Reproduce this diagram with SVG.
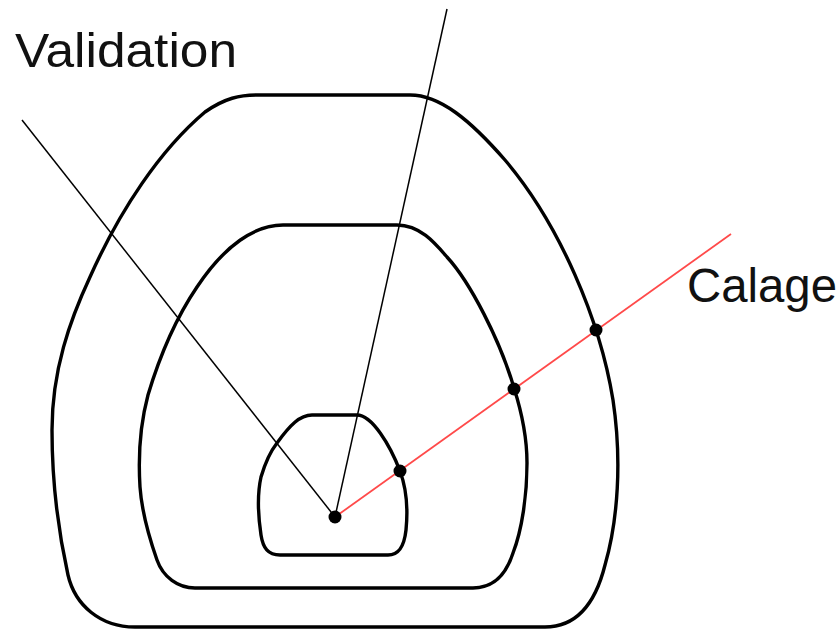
<svg xmlns="http://www.w3.org/2000/svg" width="840" height="630" viewBox="0 0 840 630">
<style>
.contour{fill:none;stroke:#000;stroke-width:3.4;stroke-linejoin:round}
.axis{fill:none;stroke:#000;stroke-width:1.5}
.calage{fill:none;stroke:#ff4a4a;stroke-width:1.8}
.dot{fill:#000}
.label{font-family:"Liberation Sans",Arial,sans-serif;font-size:48px;fill:#111}
</style>
<rect width="840" height="630" fill="#fff"/>
<g id="outer-contour">
<path class="contour" d="M257,95 L410,95 C440,95 470,120 505,160 C560,225 600,320 613,400 C622,460 618,520 605,565 C595,605 575,627 545,627 L135,627 C100,627 75,605 68,575 C58,530 52,480 52,430 C52,370 70,320 90,277 C120,210 160,150 205,112 C225,98 240,95 257,95 Z"/>
</g>
<g id="middle-contour">
<path class="contour" d="M283,225 L397,225 C420,225 435,243 447,257 C470,282 500,340 514,388 C521,410 527,435 527,463 C527,495 522,530 513,553 C505,578 490,588 473,588 L195,588 C178,588 163,577 157,560 C150,540 142,515 140,487 C138,455 140,425 148,395 C160,355 178,315 197,287 C225,245 255,225 283,225 Z"/>
</g>
<g id="inner-contour">
<path class="contour" d="M312,415 L357,415 C372,415 390,445 400,471 C407,490 408,510 406,530 C404,548 398,555 388,555 L280,555 C268,555 263,548 261,535 C258,515 257,495 261,477 C266,460 270,452 277,443 C290,425 300,415 312,415 Z"/>
</g>
<g id="connectors">
<line class="axis" x1="335" y1="517" x2="22" y2="120"/>
<line class="axis" x1="335" y1="517" x2="447" y2="9"/>
<line class="calage" x1="335" y1="517" x2="731" y2="234"/>
</g>
<g id="points">
<circle class="dot" cx="335" cy="517" r="6.5"/>
<circle class="dot" cx="400" cy="471" r="6.5"/>
<circle class="dot" cx="514" cy="389" r="6.5"/>
<circle class="dot" cx="596" cy="330" r="6.5"/>
</g>
<g id="label-validation">
<text class="label" x="15" y="67" textLength="222" lengthAdjust="spacingAndGlyphs">Validation</text>
</g>
<g id="label-calage">
<text class="label" x="687" y="302" textLength="150" lengthAdjust="spacingAndGlyphs">Calage</text>
</g>
</svg>
